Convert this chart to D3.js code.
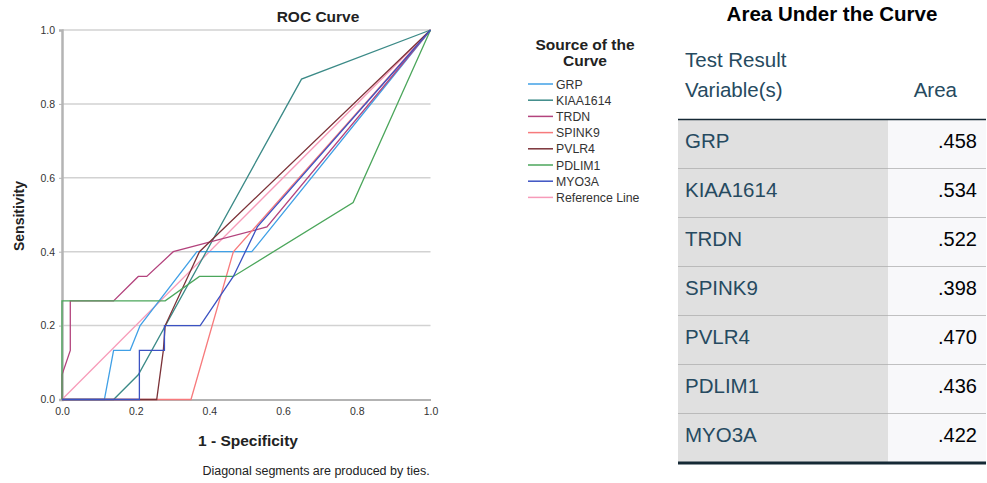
<!DOCTYPE html>
<html>
<head>
<meta charset="utf-8">
<script src="https://cdn.jsdelivr.net/npm/d3@7"></script>
<style>
  body { margin: 0; background: #fff; }
  svg { font-family: "Liberation Sans", Arial, sans-serif; }
</style>
</head>
<body>
<script>
// series: [1 - specificity, sensitivity]
const seriesNames = ["GRP", "KIAA1614", "TRDN", "SPINK9", "PVLR4", "PDLIM1", "MYO3A", "Reference Line"];
const seriesColors = ["#40a0e6", "#3b8a87", "#b3437d", "#f77a7c", "#7b3238", "#4ba65b", "#3b52c2", "#f79bb9"];
const grpPts = [[0,0],[0.115,0],[0.14,0.133],[0.185,0.133],[0.212,0.2],[0.366,0.4],[0.515,0.4],[1,1]];
const kiaaPts = [[0,0],[0.14,0],[0.207,0.067],[0.65,0.867],[1,1]];
const trdnPts = [[0,0],[0,0.067],[0.0225,0.133],[0.0225,0.267],[0.14,0.267],[0.207,0.333],[0.23,0.333],[0.302,0.4],[0.556,0.467],[1,1]];
const spink9Pts = [[0,0],[0.35,0],[0.465,0.4],[1,1]];
const pvlr4Pts = [[0,0],[0.257,0],[0.275,0.133],[0.28,0.2],[0.373,0.4],[1,1]];
const pdlim1Pts = [[0,0],[0,0.267],[0.28,0.267],[0.373,0.333],[0.465,0.333],[0.79,0.533],[1,1]];
const myo3aPts = [[0,0],[0.21,0],[0.21,0.133],[0.278,0.133],[0.278,0.2],[0.375,0.2],[0.465,0.333],[0.53,0.467],[1,1]];
const refPts = [[0,0],[1,1]];
const seriesPts = [grpPts, kiaaPts, trdnPts, spink9Pts, pvlr4Pts, pdlim1Pts, myo3aPts, refPts];

const tickValues = [0, 0.2, 0.4, 0.6, 0.8, 1.0];
const tableVars = ["GRP", "KIAA1614", "TRDN", "SPINK9", "PVLR4", "PDLIM1", "MYO3A"];
const tableAreas = [".458", ".534", ".522", ".398", ".470", ".436", ".422"];

const W = 987, H = 483;
const plot = {left: 62, right: 430.5, top: 30, bottom: 399.5};

const svg = d3.select("body").append("svg")
    .attr("width", W)
    .attr("height", H);

const x = d3.scaleLinear().domain([0, 1]).range([plot.left, plot.right]);
const y = d3.scaleLinear().domain([0, 1]).range([plot.bottom, plot.top]);

// horizontal gridlines
svg.append("g")
    .selectAll("line")
    .data(tickValues.slice(1))
    .enter().append("line")
    .attr("x1", plot.left)
    .attr("x2", plot.right)
    .attr("y1", d => y(d))
    .attr("y2", d => y(d))
    .attr("stroke", "#d2d2d2")
    .attr("stroke-width", 1.5);

// axes
const xAxis = d3.axisBottom(x).tickValues(tickValues).tickFormat(d3.format(".1f")).tickSize(0).tickPadding(8);
const yAxis = d3.axisLeft(y).tickValues(tickValues).tickFormat(d3.format(".1f")).tickSize(3).tickPadding(4);

const gx = svg.append("g")
    .attr("transform", "translate(0," + plot.bottom + ")")
    .call(xAxis);
gx.select(".domain").attr("stroke", "#9a9a9a").attr("stroke-width", 1.5);
gx.selectAll("text").attr("font-size", 10.5).attr("fill", "#333");

const gy = svg.append("g")
    .attr("transform", "translate(" + plot.left + ",0)")
    .call(yAxis);
gy.select(".domain").attr("stroke", "#b4b4b4").attr("stroke-width", 2.5);
gy.selectAll(".tick line").attr("stroke", "#b4b4b4");
gy.selectAll("text").attr("font-size", 10.5).attr("fill", "#333");

// curves
const line = d3.line().x(d => x(d[0])).y(d => y(d[1]));
const order = [7, 0, 1, 2, 3, 4, 5, 6];
svg.append("g")
    .selectAll("path")
    .data(order)
    .enter().append("path")
    .attr("d", i => line(seriesPts[i]))
    .attr("fill", "none")
    .attr("stroke", i => seriesColors[i])
    .attr("stroke-width", 1.3);

// titles
svg.append("text")
    .attr("x", 318).attr("y", 22)
    .attr("text-anchor", "middle")
    .attr("font-size", 15.5).attr("font-weight", "bold")
    .attr("fill", "#222")
    .text("ROC Curve");

svg.append("text")
    .attr("x", 248).attr("y", 446)
    .attr("text-anchor", "middle")
    .attr("font-size", 15.5).attr("font-weight", "bold")
    .attr("fill", "#222")
    .text("1 - Specificity");

svg.append("text")
    .attr("transform", "translate(24,216) rotate(-90)")
    .attr("text-anchor", "middle")
    .attr("font-size", 14).attr("font-weight", "bold")
    .attr("fill", "#222")
    .text("Sensitivity");

svg.append("text")
    .attr("x", 316).attr("y", 475)
    .attr("text-anchor", "middle")
    .attr("font-size", 12.5)
    .attr("fill", "#222")
    .text("Diagonal segments are produced by ties.");

// legend
const lg = svg.append("g");
lg.append("text")
    .attr("x", 585).attr("y", 50)
    .attr("text-anchor", "middle")
    .attr("font-size", 15.5).attr("font-weight", "bold")
    .attr("fill", "#222")
    .text("Source of the");
lg.append("text")
    .attr("x", 585).attr("y", 66)
    .attr("text-anchor", "middle")
    .attr("font-size", 15.5).attr("font-weight", "bold")
    .attr("fill", "#222")
    .text("Curve");

const items = lg.selectAll("g.item")
    .data(seriesNames)
    .enter().append("g")
    .attr("class", "item")
    .attr("transform", (d, i) => "translate(0," + (84 + i * 16.2) + ")");
items.append("line")
    .attr("x1", 528).attr("x2", 553)
    .attr("stroke", (d, i) => seriesColors[i])
    .attr("stroke-width", 1.5);
items.append("text")
    .attr("x", 556).attr("y", 4.5)
    .attr("font-size", 12.3)
    .attr("fill", "#333")
    .text(d => d);

// AUC table
const tb = svg.append("g");
const tLeft = 678, tMid = 888, tRight = 986;
const rowTop = 120, rowH = 49;

tb.append("text")
    .attr("x", 832).attr("y", 21)
    .attr("text-anchor", "middle")
    .attr("font-size", 20.5).attr("font-weight", "bold")
    .attr("fill", "#010205")
    .text("Area Under the Curve");

tb.append("text").attr("x", 685).attr("y", 67)
    .attr("font-size", 20.5).attr("fill", "#264a60").text("Test Result");
tb.append("text").attr("x", 685).attr("y", 97)
    .attr("font-size", 20.5).attr("fill", "#264a60").text("Variable(s)");
tb.append("text").attr("x", 957).attr("y", 97)
    .attr("text-anchor", "end")
    .attr("font-size", 20.5).attr("fill", "#264a60").text("Area");

const rows = tb.selectAll("g.row")
    .data(tableVars)
    .enter().append("g")
    .attr("class", "row")
    .attr("transform", (d, i) => "translate(0," + (rowTop + i * rowH) + ")");
rows.append("rect")
    .attr("x", tLeft).attr("width", tMid - tLeft).attr("height", rowH)
    .attr("fill", "#e0e0e0");
rows.append("rect")
    .attr("x", tMid).attr("width", tRight - tMid).attr("height", rowH)
    .attr("fill", "#f8f8fa");
rows.append("line")
    .attr("x1", tLeft).attr("x2", tRight)
    .attr("y1", rowH).attr("y2", rowH)
    .attr("stroke", "#aeaeae").attr("stroke-width", 1.5);
rows.append("text")
    .attr("x", 685).attr("y", 28)
    .attr("font-size", 20.5).attr("fill", "#264a60")
    .text(d => d);
rows.append("text")
    .attr("x", 977).attr("y", 28)
    .attr("text-anchor", "end")
    .attr("font-size", 20).attr("fill", "#010205")
    .text((d, i) => tableAreas[i]);

// header and closing rules
tb.append("line")
    .attr("x1", tLeft).attr("x2", tRight)
    .attr("y1", rowTop - 0.5).attr("y2", rowTop - 0.5)
    .attr("stroke", "#152935").attr("stroke-width", 1.5);
tb.append("line")
    .attr("x1", tLeft).attr("x2", tRight)
    .attr("y1", rowTop + tableVars.length * rowH).attr("y2", rowTop + tableVars.length * rowH)
    .attr("stroke", "#152935").attr("stroke-width", 3);
</script>
</body>
</html>
